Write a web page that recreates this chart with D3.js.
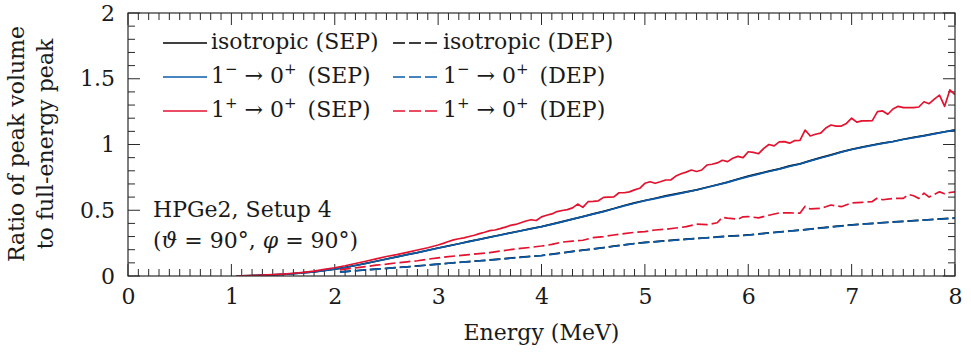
<!DOCTYPE html>
<html><head><meta charset="utf-8">
<script src="https://cdn.jsdelivr.net/npm/d3@7"></script>
<style>body{margin:0;background:#fff} text{font-family:"DejaVu Serif",serif;fill:#1a1a1a}</style>
</head><body><svg id="c" width="971" height="352"></svg>
<script>
// ---------- data ----------
const xTickValues = [0,1,2,3,4,5,6,7,8];
const xTickLabels = ["0","1","2","3","4","5","6","7","8"];
const yTickValues = [0,0.5,1,1.5,2];
const yTickLabels = ["0","0.5","1","1.5","2"];

const eSEP = [1.05,1.1,1.2,1.3,1.4,1.5,1.6,1.7,1.8,1.9,2.0,2.1,2.2,2.3,2.4,2.5,2.6,2.7,2.8,2.9,3.0,3.1,3.2,3.3,3.4,3.5,3.6,3.7,3.8,3.9,4.0,4.1,4.2,4.3,4.4,4.5,4.6,4.7,4.8,4.9,5.0,5.1,5.2,5.3,5.4,5.5,5.6,5.7,5.8,5.9,6.0,6.1,6.2,6.3,6.4,6.5,6.6,6.7,6.8,6.9,7.0,7.1,7.2,7.3,7.4,7.5,7.6,7.7,7.8,7.9,8.0];
const isoSEP = [0,0.001,0.003,0.006,0.009,0.013,0.018,0.025,0.032,0.042,0.052,0.065,0.080,0.096,0.112,0.129,0.145,0.163,0.178,0.196,0.213,0.229,0.245,0.263,0.279,0.296,0.312,0.328,0.344,0.360,0.376,0.394,0.413,0.433,0.452,0.472,0.492,0.513,0.536,0.556,0.574,0.591,0.609,0.624,0.640,0.655,0.675,0.694,0.714,0.738,0.759,0.778,0.797,0.815,0.837,0.853,0.877,0.900,0.921,0.944,0.963,0.980,0.996,1.010,1.023,1.040,1.054,1.068,1.083,1.097,1.111];
const m1SEP = [0,0.001,0.003,0.006,0.009,0.013,0.018,0.024,0.032,0.041,0.052,0.064,0.080,0.095,0.112,0.128,0.145,0.162,0.178,0.195,0.212,0.228,0.245,0.262,0.278,0.295,0.311,0.327,0.343,0.359,0.375,0.393,0.412,0.432,0.451,0.470,0.490,0.511,0.533,0.553,0.573,0.588,0.605,0.621,0.638,0.654,0.673,0.693,0.712,0.735,0.756,0.775,0.795,0.813,0.834,0.852,0.875,0.897,0.918,0.942,0.962,0.978,0.993,1.008,1.022,1.038,1.052,1.066,1.081,1.096,1.110];

const eDEP = [2.05,2.1,2.2,2.3,2.4,2.5,2.6,2.7,2.8,2.9,3.0,3.1,3.2,3.3,3.4,3.5,3.6,3.7,3.8,3.9,4.0,4.1,4.2,4.3,4.4,4.5,4.6,4.7,4.8,4.9,5.0,5.1,5.2,5.3,5.4,5.5,5.6,5.7,5.8,5.9,6.0,6.1,6.2,6.3,6.4,6.5,6.6,6.7,6.8,6.9,7.0,7.1,7.2,7.3,7.4,7.5,7.6,7.7,7.8,7.9,8.0];
const isoDEP = [0.031,0.034,0.040,0.046,0.053,0.058,0.065,0.070,0.077,0.083,0.091,0.097,0.104,0.110,0.116,0.122,0.129,0.136,0.143,0.150,0.156,0.166,0.176,0.187,0.197,0.206,0.216,0.227,0.237,0.247,0.255,0.261,0.268,0.274,0.280,0.286,0.291,0.297,0.303,0.307,0.312,0.320,0.328,0.335,0.342,0.349,0.357,0.366,0.374,0.382,0.389,0.395,0.400,0.406,0.411,0.416,0.421,0.426,0.431,0.436,0.441];
const m1DEP = [0.030,0.033,0.040,0.046,0.052,0.058,0.064,0.070,0.076,0.083,0.090,0.097,0.103,0.109,0.115,0.121,0.128,0.135,0.142,0.149,0.155,0.165,0.175,0.186,0.196,0.205,0.215,0.226,0.236,0.246,0.254,0.260,0.267,0.273,0.279,0.285,0.290,0.296,0.302,0.306,0.311,0.319,0.327,0.334,0.341,0.348,0.356,0.364,0.372,0.380,0.388,0.394,0.399,0.405,0.410,0.415,0.420,0.425,0.430,0.435,0.440];

const eP1SEP = [1.05,1.1,1.2,1.3,1.4,1.5,1.6,1.7,1.8,1.9,2.0,2.1,2.2,2.3,2.4,2.5,2.6,2.7,2.8,2.9,3.0,3.05,3.1,3.15,3.2,3.25,3.3,3.35,3.4,3.45,3.5,3.55,3.6,3.65,3.7,3.75,3.8,3.85,3.9,3.95,4.0,4.05,4.1,4.15,4.2,4.25,4.3,4.35,4.4,4.45,4.5,4.55,4.6,4.65,4.7,4.75,4.8,4.85,4.9,4.95,5.0,5.05,5.1,5.15,5.2,5.25,5.3,5.35,5.4,5.45,5.5,5.55,5.6,5.65,5.7,5.75,5.8,5.85,5.9,5.95,6.0,6.05,6.1,6.15,6.2,6.25,6.3,6.35,6.4,6.45,6.5,6.55,6.6,6.65,6.7,6.75,6.8,6.85,6.9,6.95,7.0,7.05,7.1,7.15,7.2,7.25,7.3,7.35,7.4,7.45,7.5,7.55,7.6,7.65,7.7,7.75,7.8,7.85,7.9,7.95,8.0];
const p1SEP = [0,0.001,0.003,0.006,0.010,0.015,0.021,0.028,0.037,0.050,0.063,0.078,0.095,0.112,0.130,0.148,0.162,0.180,0.198,0.215,0.236,0.248,0.262,0.275,0.283,0.290,0.300,0.310,0.322,0.333,0.345,0.350,0.360,0.372,0.385,0.392,0.405,0.418,0.428,0.422,0.450,0.462,0.472,0.490,0.498,0.505,0.518,0.547,0.522,0.565,0.568,0.572,0.598,0.600,0.602,0.633,0.633,0.640,0.655,0.667,0.705,0.717,0.705,0.717,0.730,0.730,0.760,0.778,0.790,0.806,0.795,0.806,0.844,0.850,0.860,0.880,0.870,0.895,0.910,0.900,0.945,0.940,0.930,0.970,1.000,0.990,1.020,1.022,1.010,1.030,1.032,1.110,1.065,1.078,1.087,1.125,1.148,1.140,1.140,1.160,1.200,1.170,1.180,1.180,1.182,1.250,1.255,1.230,1.270,1.290,1.280,1.280,1.280,1.285,1.325,1.310,1.345,1.375,1.290,1.415,1.380];

const eP1DEP = [2.05,2.1,2.2,2.3,2.4,2.5,2.6,2.7,2.8,2.9,3.0,3.1,3.2,3.3,3.4,3.5,3.6,3.7,3.8,3.9,4.0,4.1,4.2,4.3,4.4,4.5,4.6,4.7,4.8,4.9,5.0,5.1,5.2,5.3,5.4,5.5,5.6,5.7,5.75,5.8,5.9,5.95,6.0,6.1,6.2,6.3,6.4,6.5,6.55,6.6,6.7,6.75,6.8,6.9,7.0,7.1,7.2,7.25,7.3,7.4,7.5,7.55,7.6,7.65,7.7,7.75,7.85,7.9,7.95,8.0];
const p1DEP = [0.046,0.052,0.062,0.072,0.082,0.090,0.100,0.108,0.116,0.128,0.138,0.147,0.155,0.163,0.170,0.178,0.190,0.200,0.210,0.218,0.228,0.240,0.258,0.265,0.272,0.292,0.300,0.312,0.322,0.332,0.338,0.350,0.355,0.365,0.375,0.394,0.390,0.405,0.446,0.440,0.432,0.450,0.452,0.442,0.462,0.480,0.480,0.478,0.530,0.510,0.515,0.527,0.540,0.527,0.555,0.560,0.566,0.593,0.580,0.590,0.590,0.620,0.610,0.590,0.630,0.600,0.640,0.625,0.635,0.640];

const colors = {iso:"#000000", m1:"#0b5ba8", p1:"#e3122f"};

// ---------- layout ----------
const svg = d3.select("#c");
const L=128, R=955, T=13, B=276;
const x = d3.scaleLinear().domain([0,8]).range([L,R]);
const y = d3.scaleLinear().domain([0,2]).range([B,T]);
const fs = 22;
const axisCol = "#2a2a2a";
const dashPlot = "11,4";
const dashLegend = "12,4";

// minor/major ticks all four sides
const g = svg.append("g");
const xMinor = d3.range(0,81).map(i=>i/10);
const yMinor = d3.range(0,21).map(i=>i/10);
const isMajorX = v => Math.abs(v-Math.round(v))<1e-6;
const isMajorY = v => Math.abs(v*2-Math.round(v*2))<1e-6;
xMinor.forEach(v=>{
  const len = isMajorX(v)?12:7;
  g.append("line").attr("x1",x(v)).attr("x2",x(v)).attr("y1",B).attr("y2",B-len).attr("stroke",axisCol).attr("stroke-width",1);
  g.append("line").attr("x1",x(v)).attr("x2",x(v)).attr("y1",T).attr("y2",T+len).attr("stroke",axisCol).attr("stroke-width",1);
});
yMinor.forEach(v=>{
  const len = isMajorY(v)?12:7;
  g.append("line").attr("y1",y(v)).attr("y2",y(v)).attr("x1",L).attr("x2",L+len).attr("stroke",axisCol).attr("stroke-width",1);
  g.append("line").attr("y1",y(v)).attr("y2",y(v)).attr("x1",R).attr("x2",R-len).attr("stroke",axisCol).attr("stroke-width",1);
});

// tick labels via d3 axes (no lines)
const xAxis = d3.axisBottom(x).tickValues(xTickValues).tickFormat((d,i)=>xTickLabels[i]).tickSize(0).tickPadding(12);
const yAxis = d3.axisLeft(y).tickValues(yTickValues).tickFormat((d,i)=>yTickLabels[i]).tickSize(0).tickPadding(13);
const gx = svg.append("g").attr("transform",`translate(0,${B})`).call(xAxis);
const gy = svg.append("g").attr("transform",`translate(${L},0)`).call(yAxis);
[gx,gy].forEach(a=>{a.select(".domain").remove(); a.selectAll("text").attr("font-family","DejaVu Serif").attr("font-size",fs).attr("fill","#1a1a1a");});

// curves
svg.append("clipPath").attr("id","clip").append("rect").attr("x",L).attr("y",T).attr("width",R-L).attr("height",B-T);
const plot = svg.append("g").attr("clip-path","url(#clip)");
const line = d3.line().x(d=>x(d[0])).y(d=>y(d[1]));
const zip = (a,b)=>a.map((v,i)=>[v,b[i]]);
const series = [
  {e:eSEP, v:isoSEP, c:colors.iso, dash:null},
  {e:eDEP, v:isoDEP, c:colors.iso, dash:dashPlot},
  {e:eSEP, v:m1SEP, c:colors.m1, dash:null},
  {e:eDEP, v:m1DEP, c:colors.m1, dash:dashPlot},
  {e:eP1SEP, v:p1SEP, c:colors.p1, dash:null},
  {e:eP1DEP, v:p1DEP, c:colors.p1, dash:dashPlot}
];
series.forEach(s=>{
  plot.append("path").datum(zip(s.e,s.v)).attr("d",line).attr("fill","none")
    .attr("stroke",s.c).attr("stroke-width",1.7).attr("stroke-linejoin","round")
    .attr("stroke-dasharray",s.dash);
});

// frame
svg.append("rect").attr("x",L).attr("y",T).attr("width",R-L).attr("height",B-T).attr("fill","none").attr("stroke",axisCol).attr("stroke-width",1.2);

// axis titles
svg.append("text").attr("x",(L+R)/2).attr("y",340).attr("text-anchor","middle").attr("font-size",fs).text("Energy (MeV)");
const yl = svg.append("text").attr("transform","translate(0,144) rotate(-90)").attr("text-anchor","middle").attr("font-size",fs);
yl.append("tspan").attr("x",0).attr("y",24).text("Ratio of peak volume");
yl.append("tspan").attr("x",0).attr("y",53).text("to full-energy peak");

// legend
const legend = [
  {c:colors.iso, label:"iso"},
  {c:colors.m1, label:"m1"},
  {c:colors.p1, label:"p1"}
];
const rowY = [49, 83, 117];
function writeLabel(t, kind, tag){
  if(kind==="iso"){ t.text(`isotropic (${tag})`); return; }
  const s1 = kind==="m1" ? "\u2212" : "+";
  t.append("tspan").text("1");
  t.append("tspan").attr("font-size",15).attr("dy",-9).text(s1);
  t.append("tspan").attr("dy",9).text(" \u2192 0");
  t.append("tspan").attr("font-size",15).attr("dy",-9).text("+");
  t.append("tspan").attr("dy",9).text(`\u2002(${tag})`);
}
legend.forEach((l,i)=>{
  const ly = rowY[i]-6;
  svg.append("line").attr("x1",163).attr("x2",207).attr("y1",ly).attr("y2",ly).attr("stroke",l.c).attr("stroke-width",1.7);
  writeLabel(svg.append("text").attr("x",211).attr("y",rowY[i]).attr("font-size",fs), l.label, "SEP");
  svg.append("line").attr("x1",393).attr("x2",437).attr("y1",ly).attr("y2",ly).attr("stroke",l.c).attr("stroke-width",1.7).attr("stroke-dasharray",dashLegend);
  writeLabel(svg.append("text").attr("x",443).attr("y",rowY[i]).attr("font-size",fs), l.label, "DEP");
});

// annotation
svg.append("text").attr("x",153).attr("y",217).attr("font-size",fs).text("HPGe2, Setup 4");
const an = svg.append("text").attr("x",153).attr("y",248).attr("font-size",fs);
an.append("tspan").text("(");
an.append("tspan").attr("font-style","italic").text("\u03D1");
an.append("tspan").text(" = 90°, ");
an.append("tspan").attr("font-style","italic").text("\u03C6");
an.append("tspan").text(" = 90°)");
</script></body></html>
